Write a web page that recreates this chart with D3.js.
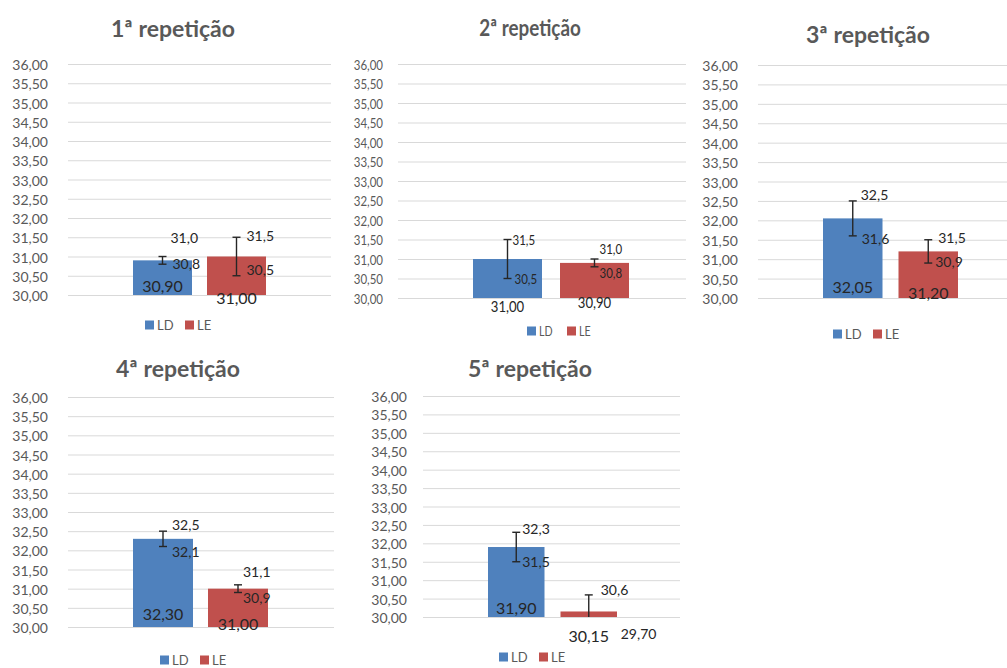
<!DOCTYPE html>
<html>
<head>
<meta charset="utf-8">
<script src="https://cdn.jsdelivr.net/npm/d3@7"></script>
<style>
  html, body { margin: 0; padding: 0; background: #ffffff; }
  svg { display: block; }
</style>
</head>
<body>
<svg id="chart" width="1007" height="668"></svg>
<script>
// Temperatura média por lado (LD / LE) em cada repetição, com barras de erro
const titles = ["1ª repetição", "2ª repetição", "3ª repetição", "4ª repetição", "5ª repetição"];
const series = ["LD", "LE"];
const ldMean = [30.90, 31.00, 32.05, 32.30, 31.90];
const leMean = [31.00, 30.90, 31.20, 31.00, 30.15];
const ldLow  = [30.8, 30.5, 31.6, 32.1, 31.5];
const ldHigh = [31.0, 31.5, 32.5, 32.5, 32.3];
const leLow  = [30.5, 30.8, 30.9, 30.9, 29.70];
const leHigh = [31.5, 31.0, 31.5, 31.1, 30.6];
const yTicks = [30.00, 30.50, 31.00, 31.50, 32.00, 32.50, 33.00, 33.50, 34.00, 34.50, 35.00, 35.50, 36.00];
const yDomain = [30, 36];

// Panel geometry (pixels)
const frames = [
  { titleX: 173, titleY: 28,  yBase: 295, yTop: 64,  gridL: 68,  gridR: 331,  labelR: 48,  barL: 133, barR: 266, barW: 59,   legX: 145, legY: 325, sx: 1 },
  { titleX: 530, titleY: 27,  yBase: 298, yTop: 64,  gridL: 398, gridR: 686,  labelR: 383, barL: 473, barR: 629, barW: 69,   legX: 527, legY: 331, sx: 0.82 },
  { titleX: 868, titleY: 34,  yBase: 298, yTop: 65,  gridL: 758, gridR: 1007, labelR: 738, barL: 823, barR: 958, barW: 59.5, legX: 833, legY: 334, sx: 1 },
  { titleX: 178, titleY: 368, yBase: 627, yTop: 397, gridL: 68,  gridR: 334,  labelR: 48,  barL: 133, barR: 268, barW: 60,   legX: 160, legY: 660, sx: 1 },
  { titleX: 530, titleY: 368, yBase: 617, yTop: 396, gridL: 423, gridR: 680,  labelR: 407, barL: 488, barR: 617, barW: 56.5, legX: 499, legY: 657, sx: 1 }
];

// Data-label offsets per panel and series: [high dx, high dy, low dx, low dy, value dy, low decimals]
const labelShift = [
  [[8, -19, 10, -1, -10, 1], [10, -2, 10, -6, 2, 1]],
  [[5, 0, 7, 0, 8, 1],       [5, -10, 5, 6, 4, 1]],
  [[8, -6, 9, 3, -12, 1],    [10, -2, 7, -2, -6, 1]],
  [[9, -7, 9, 5, -14, 1],    [5, -13, 5, 5, -4, 1]],
  [[6, -4, 6, 0, -10, 1],    [12, -5, 32, 16, 18, 2]]
];

const colors = { LD: "#4F81BD", LE: "#C0504D" };
const FONT = "Lato, 'Open Sans', sans-serif";
const locale = d3.formatLocale({ decimal: ",", thousands: ".", grouping: [3], currency: ["R$ ", ""] });
const fmt = d => locale.format("." + d + "f");
const f2 = fmt(2);

const svg = d3.select("#chart");
svg.append("rect").attr("width", 1007).attr("height", 668).attr("fill", "#ffffff");

function addText(g, px, py, str, o) {
  return g.append("text")
    .attr("transform", `translate(${px},${py}) scale(${o.sx},1)`)
    .attr("text-anchor", o.anchor || "start")
    .attr("dominant-baseline", "central")
    .attr("font-family", FONT)
    .attr("font-size", o.size)
    .attr("font-weight", o.weight || "normal")
    .attr("fill", o.fill)
    .text(str);
}

titles.forEach((title, i) => {
  const F = frames[i];
  const g = svg.append("g").attr("class", "panel");
  const means = { LD: ldMean[i], LE: leMean[i] };
  const lows = { LD: ldLow[i], LE: leLow[i] };
  const highs = { LD: ldHigh[i], LE: leHigh[i] };

  const y = d3.scaleLinear().domain(yDomain).range([F.yBase, F.yTop]);
  const span = F.barR - F.barL;
  const x = d3.scaleBand().domain(series).range([F.barL, F.barR])
    .paddingInner(1 - F.barW / (span - F.barW)).paddingOuter(0);

  // Eixo Y com linhas de grade
  const axis = d3.axisLeft(y)
    .tickValues(yTicks)
    .tickSize(-(F.gridR - F.gridL))
    .tickPadding(F.gridL - F.labelR)
    .tickFormat(f2);
  const ax = g.append("g").attr("transform", `translate(${F.gridL},0)`).call(axis);
  ax.select(".domain").remove();
  ax.selectAll(".tick line").attr("stroke", "#d9d9d9").attr("stroke-width", 1);
  ax.selectAll(".tick text")
    .attr("font-family", FONT).attr("font-size", 14).attr("fill", "#595959")
    .attr("x", null).attr("dy", null)
    .attr("dominant-baseline", "central")
    .attr("transform", `translate(${-(F.gridL - F.labelR)},0) scale(${F.sx},1)`);

  // Título
  addText(g, F.titleX, F.titleY, title, { sx: F.sx, anchor: "middle", size: 23, weight: "bold", fill: "#595959" });

  // Barras
  g.selectAll("rect.bar").data(series).join("rect")
    .attr("class", "bar")
    .attr("x", s => x(s))
    .attr("width", x.bandwidth())
    .attr("y", s => y(means[s]))
    .attr("height", s => y(yDomain[0]) - y(means[s]))
    .attr("fill", s => colors[s]);

  // Barras de erro
  series.forEach((s, k) => {
    const cx = x(s) + x.bandwidth() / 2;
    const lo = Math.max(lows[s], yDomain[0]);
    const hi = Math.min(highs[s], yDomain[1]);
    const eb = g.append("g").attr("stroke", "#262626").attr("stroke-width", 1.4);
    eb.append("line").attr("x1", cx).attr("x2", cx).attr("y1", y(hi)).attr("y2", y(lo));
    if (highs[s] <= yDomain[1]) eb.append("line").attr("x1", cx - 4).attr("x2", cx + 4).attr("y1", y(highs[s])).attr("y2", y(highs[s]));
    if (lows[s] >= yDomain[0]) eb.append("line").attr("x1", cx - 4).attr("x2", cx + 4).attr("y1", y(lows[s])).attr("y2", y(lows[s]));

    const L = labelShift[i][k];
    const lab = { sx: F.sx, size: 14, fill: "#262626" };
    addText(g, cx + L[0], y(hi) + L[1], fmt(1)(highs[s]), lab);
    addText(g, cx + L[2], y(lo) + L[3], fmt(L[5])(lows[s]), lab);
    addText(g, cx, y(yDomain[0]) + L[4], f2(means[s]), { sx: F.sx, size: 16, fill: "#262626", anchor: "middle" });
  });

  // Legenda
  series.forEach((s, k) => {
    const lx = F.legX + k * 40;
    g.append("rect").attr("x", lx).attr("y", F.legY - 4.5).attr("width", 9).attr("height", 9).attr("fill", colors[s]);
    addText(g, lx + 12, F.legY, s, { sx: F.sx, size: 13, fill: "#595959" });
  });
});
</script>
</body>
</html>
